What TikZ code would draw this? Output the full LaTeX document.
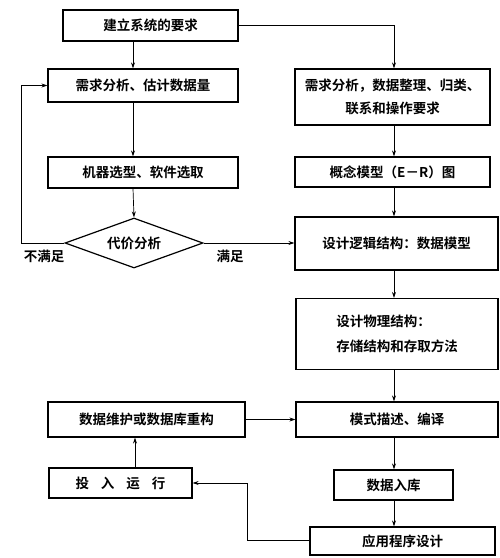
\documentclass[tikz,border=0pt]{standalone}
\usepackage{fontspec}
\setmainfont{Noto Sans CJK SC}[BoldFont={Noto Sans CJK SC Bold}]
\usetikzlibrary{shapes.geometric,arrows.meta,calc}
\begin{document}
\begin{tikzpicture}[x=1pt,y=-1pt,
  box/.style={draw,line width=1.2pt,rectangle,inner sep=0pt,align=center,font=\bfseries\fontsize{13.5pt}{23pt}\selectfont},
  lbl/.style={font=\bfseries\fontsize{13.5pt}{16pt}\selectfont,inner sep=0pt},
  arr/.style={line width=0.7pt,-{Stealth[length=6pt,width=4pt]}},
  ln/.style={line width=0.7pt}]
\useasboundingbox (0,0) rectangle (500,558);
\node[box,minimum width=175pt,minimum height=31pt] (top) at (150.5,25.5) {建立系统的要求};
\node[box,minimum width=190pt,minimum height=33pt] (l1) at (143,85.5) {需求分析、估计数据量};
\node[box,minimum width=190pt,minimum height=31pt] (l2) at (143,172.5) {机器选型、软件选取};
\node[draw,line width=1.2pt,diamond,aspect=2.76,minimum width=138pt,minimum height=50pt,inner sep=0pt,font=\bfseries\fontsize{13.5pt}{16pt}\selectfont] (dia) at (134,243) {代价分析};
\node[lbl] (no) at (44,256) {不满足};
\node[lbl] (yes) at (230,256) {满足};

\node[box,minimum width=195pt,minimum height=56pt] (r1) at (392.5,97) {需求分析，数据整理、归类、\\联系和操作要求};
\node[box,minimum width=195pt,minimum height=30pt] (r2) at (392.5,172) {概念模型（E－R）图};
\node[box,minimum width=203pt,minimum height=53pt] (r3) at (396.5,243.5) {设计逻辑结构：数据模型};
\node[box,minimum width=202pt,minimum height=71pt,align=left,font=\bfseries\fontsize{13.5pt}{25pt}\selectfont] (r4) at (397,334) {设计物理结构：\\存储结构和存取方法};
\node[box,minimum width=202pt,minimum height=35pt] (r5) at (397,419.5) {模式描述、编译};
\node[box,minimum width=119pt,minimum height=30pt] (r6) at (393.5,485) {数据入库};
\node[box,minimum width=185pt,minimum height=28pt] (r7) at (402.5,541) {应用程序设计};

\node[box,minimum width=197pt,minimum height=35pt] (l3) at (146.5,419.5) {数据维护或数据库重构};
\node[box,minimum width=143pt,minimum height=30pt] (l4) at (120.5,483) {投\hspace{12pt}入\hspace{12pt}运\hspace{12pt}行};

\coordinate (cx) at (133,0);
\coordinate (rx) at (394,0);
% left column
\draw[arr] (top.south -| cx) -- (l1.north -| cx);
\draw[arr] (l1.south -| cx) -- (l2.north -| cx);
\draw[arr] (l2.south -| cx) -- (dia.north);
\coordinate (lp) at (21,243);
\draw[arr] (dia.west) -- (lp) -- (lp |- l1.west) -- (l1.west);
\draw[arr] (dia.east) -- (dia.east -| r3.west);
% right column
\draw[arr] (top.east) -- (top.east -| rx) -- (r1.north -| rx);
\draw[arr] (r1.south -| rx) -- (r2.north -| rx);
\draw[arr] (r2.south -| rx) -- (r3.north -| rx);
\draw[arr] (r3.south -| rx) -- (r4.north -| rx);
\draw[arr] (r4.south -| rx) -- (r5.north -| rx);
\draw[arr] (r5.south -| rx) -- (r6.north -| rx);
\draw[arr] (r6.south -| rx) -- (r7.north -| rx);
% bottom left
\draw[arr] (l3.east) -- (r5.west);
\draw[arr] (l4.north -| 135,0) -- (l3.south -| 135,0);
\coordinate (bp) at (247,540);
\draw[arr] (r7.west |- bp) -- (bp) -- (bp |- l4.east) -- (l4.east);
\end{tikzpicture}
\end{document}
